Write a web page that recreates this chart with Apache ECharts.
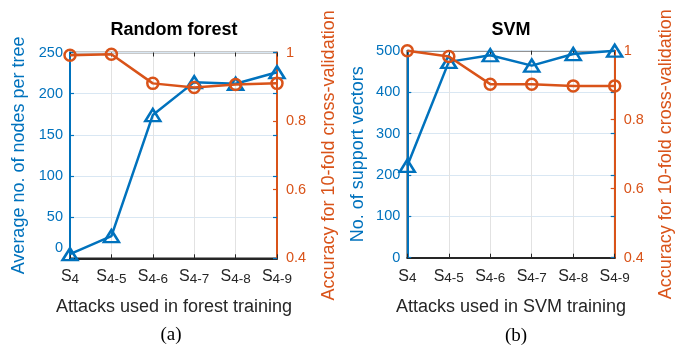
<!DOCTYPE html>
<html>
<head>
<meta charset="utf-8">
<script src="https://cdn.jsdelivr.net/npm/echarts@6/dist/echarts.min.js"></script>
<style>
  html, body { margin: 0; padding: 0; background: #fff; }
  #chart { width: 688px; height: 356px; }
</style>
</head>
<body>
<div id="chart"></div>
<script>
// Subscripts of the attack sets S used for training
const attackSets = ['4', '4-5', '4-6', '4-7', '4-8', '4-9'];

// (a) Random forest
const forestNodes = [5, 27, 174, 214, 212, 226];
const forestAccuracy = [0.992, 0.995, 0.910, 0.898, 0.907, 0.910];

// (b) SVM
const svmVectors = [222, 473, 489, 464, 492, 500];
const svmAccuracy = [1.0, 0.983, 0.903, 0.903, 0.898, 0.898];

// Axis ranges / tick steps
const forestNodeAxis = { min: 0, max: 250, interval: 50 };
const svmVectorAxis = { min: 0, max: 500, interval: 100 };
const accuracyAxis = { min: 0.4, max: 1.0, interval: 0.2 };

const BLUE = '#0072BD';
const ORANGE = '#D95319';
const DARK = '#262626';
const FONT = '"Liberation Sans", Arial, Helvetica, sans-serif';

const grids = [
  { left: 70, top: 52.5, width: 207, height: 205.8 },
  { left: 407.3, top: 50.7, width: 207.4, height: 207 }
];

function bottomAxis(gridIndex) {
  return {
    type: 'category', gridIndex, position: 'bottom', boundaryGap: false,
    data: attackSets,
    axisLine: { onZero: false, lineStyle: { color: DARK, width: 2 } },
    axisTick: { inside: true, length: 4, lineStyle: { color: DARK, width: 1 } },
    splitLine: { show: true, lineStyle: { color: '#e2e2e2', width: 1 } },
    axisLabel: {
      margin: 13, interval: 0, hideOverlap: false,
      formatter: v => '{s|S}{sub|' + v + '}',
      rich: {
        // raise the S so the attack-range subscript sits below its baseline
        s: { fontFamily: FONT, fontSize: 16, lineHeight: 16, color: DARK, padding: [0, 0, 5, 0] },
        sub: { fontFamily: FONT, fontSize: 13.5, lineHeight: 13.5, color: DARK }
      }
    }
  };
}

function topAxis(gridIndex) {
  return {
    type: 'category', gridIndex, position: 'top', boundaryGap: false,
    data: attackSets,
    axisLine: { show: false, onZero: false },
    axisTick: { inside: true, length: 4, lineStyle: { color: DARK, width: 1 } },
    axisLabel: { show: false },
    splitLine: { show: false }
  };
}

function countAxis(gridIndex, range, name, nameGap, labelFn) {
  return {
    type: 'value', gridIndex, position: 'left',
    min: range.min, max: range.max, interval: range.interval,
    name, nameLocation: 'middle', nameGap, nameRotate: 90,
    nameTextStyle: { fontFamily: FONT, fontSize: 18, color: BLUE },
    axisLine: { show: true, onZero: false, lineStyle: { color: BLUE, width: 2 } },
    axisTick: { show: true, inside: true, length: 4, lineStyle: { color: BLUE, width: 1.2 } },
    splitLine: { show: true, lineStyle: { color: '#d9e7f3', width: 1 } },
    axisLabel: {
      margin: 7, fontFamily: FONT, fontSize: 14.5, color: BLUE,
      formatter: labelFn || (v => String(v)),
      rich: { lift: { fontFamily: FONT, fontSize: 14.5, color: BLUE, padding: [0, 0, 20, 0] } }
    }
  };
}

// Mirror of the count axis ticks on the right-hand edge
function countMirror(gridIndex, range) {
  return {
    type: 'value', gridIndex, position: 'right',
    min: range.min, max: range.max, interval: range.interval,
    axisLine: { show: false, onZero: false },
    axisTick: { show: true, inside: true, length: 4, lineStyle: { color: BLUE, width: 1.2 } },
    axisLabel: { show: false },
    splitLine: { show: false }
  };
}

function accuracyYAxis(gridIndex, nameGap) {
  return {
    type: 'value', gridIndex, position: 'right',
    min: accuracyAxis.min, max: accuracyAxis.max, interval: accuracyAxis.interval,
    name: 'Accuracy for 10-fold cross-validation',
    nameLocation: 'middle', nameGap, nameRotate: 90,
    nameTextStyle: { fontFamily: FONT, fontSize: 18, color: ORANGE },
    axisLine: { show: true, onZero: false, lineStyle: { color: ORANGE, width: 2 } },
    axisTick: { show: true, inside: true, length: 4, lineStyle: { color: ORANGE, width: 1.2 } },
    splitLine: { show: false },
    axisLabel: {
      margin: 9, fontFamily: FONT, fontSize: 14.5, color: ORANGE,
      formatter: v => String(+v.toFixed(1))
    }
  };
}

function countSeries(xi, yi, data) {
  return {
    type: 'line', xAxisIndex: xi, yAxisIndex: yi, data,
    clip: false, z: 3,
    symbol: 'triangle', symbolSize: [15, 12],
    lineStyle: { color: BLUE, width: 2.5 },
    itemStyle: { color: 'rgba(0,0,0,0)', borderColor: BLUE, borderWidth: 2.5 },
    emphasis: { disabled: true }
  };
}

function accuracySeries(xi, yi, data) {
  return {
    type: 'line', xAxisIndex: xi, yAxisIndex: yi, data,
    clip: false, z: 4,
    symbol: 'circle', symbolSize: 11,
    lineStyle: { color: ORANGE, width: 2.5 },
    itemStyle: { color: 'rgba(0,0,0,0)', borderColor: ORANGE, borderWidth: 2.5 },
    emphasis: { disabled: true }
  };
}

function caption(text, x, y, font, fill) {
  return {
    type: 'text', x, y, z: 10,
    style: { text, font, fill: fill || DARK, align: 'center', verticalAlign: 'middle' }
  };
}

const chart = echarts.init(document.getElementById('chart'), null, { renderer: 'canvas' });

chart.setOption({
  animation: false,
  backgroundColor: '#fff',
  grid: grids.map(g => Object.assign({ show: true, borderColor: DARK, borderWidth: 1.5, backgroundColor: 'rgba(0,0,0,0)' }, g)),
  xAxis: [bottomAxis(0), topAxis(0), bottomAxis(1), topAxis(1)],
  yAxis: [
    countAxis(0, forestNodeAxis, 'Average no. of nodes per tree', 42, v => v === 0 ? '{lift|0}' : String(v)),
    accuracyYAxis(0, 43),
    countMirror(0, forestNodeAxis),
    countAxis(1, svmVectorAxis, 'No. of support vectors', 40),
    accuracyYAxis(1, 42),
    countMirror(1, svmVectorAxis)
  ],
  series: [
    countSeries(0, 0, forestNodes),
    accuracySeries(0, 1, forestAccuracy),
    countSeries(2, 3, svmVectors),
    accuracySeries(2, 4, svmAccuracy)
  ],
  graphic: [
    caption('Random forest', 174, 30, 'bold 18px ' + FONT, '#000'),
    caption('SVM', 511, 30, 'bold 18px ' + FONT, '#000'),
    caption('Attacks used in forest training', 174, 307, '18px ' + FONT),
    caption('Attacks used in SVM training', 511, 307, '18px ' + FONT),
    caption('(a)', 171, 335, '19px "Liberation Serif", "Times New Roman", serif', '#000'),
    caption('(b)', 516, 336, '19px "Liberation Serif", "Times New Roman", serif', '#000')
  ]
});
</script>
</body>
</html>
